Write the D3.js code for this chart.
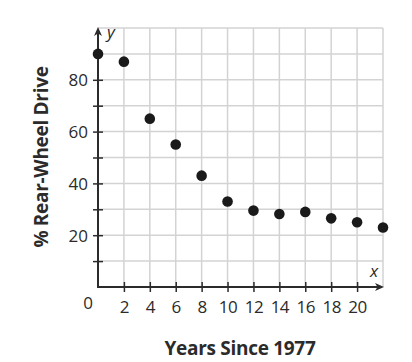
<!DOCTYPE html>
<html>
<head>
<meta charset="utf-8">
<script src="https://cdn.jsdelivr.net/npm/d3@7"></script>
<style>
  body { margin: 0; background: #fff; }
  svg { display: block; font-family: "Open Sans", "Noto Sans", sans-serif; }
</style>
</head>
<body>
<div id="chart"></div>
<script>
// data
const years = [0, 2, 4, 6, 8, 10, 12, 14, 16, 18, 20, 22];
const rearWheel = [90, 87, 65, 55, 43, 33, 29.5, 28.2, 29, 26.5, 25, 23];
const xTicks = [2, 4, 6, 8, 10, 12, 14, 16, 18, 20];
const yTicks = [10, 20, 30, 40, 50, 60, 70, 80, 90];
const yLabels = [20, 40, 60, 80];

const width = 412, height = 362;
const ink = "#2b2b2b";

const svg = d3.select("#chart").append("svg")
  .attr("width", width)
  .attr("height", height)
  .attr("viewBox", [0, 0, width, height]);

const x = d3.scaleLinear().domain([0, 22]).range([98, 383]);
const y = d3.scaleLinear().domain([0, 100]).range([287, 28]);

// grid
const grid = svg.append("g").attr("stroke", "#d3d3d3").attr("stroke-width", 1.5);
grid.selectAll("line.v")
  .data(d3.range(2, 23, 2))
  .join("line")
  .attr("x1", d => x(d)).attr("x2", d => x(d))
  .attr("y1", y(0)).attr("y2", y(100));
grid.selectAll("line.h")
  .data(d3.range(10, 101, 10))
  .join("line")
  .attr("x1", x(0)).attr("x2", x(22))
  .attr("y1", d => y(d)).attr("y2", d => y(d));

// y axis
const yAxis = svg.append("g")
  .attr("transform", `translate(${x(0)},0)`)
  .call(d3.axisLeft(y)
    .tickValues(yTicks)
    .tickSize(5)
    .tickPadding(5)
    .tickFormat(d => yLabels.includes(d) ? d : ""));
yAxis.select(".domain").remove();
yAxis.selectAll(".tick line").attr("x1", 5).attr("stroke", ink).attr("stroke-width", 1.5);
yAxis.selectAll(".tick text")
  .attr("fill", ink).attr("font-size", 17).attr("font-family", "Open Sans")
  .attr("dy", "0.36em");

// x axis
const xAxis = svg.append("g")
  .attr("transform", `translate(0,${y(0)})`)
  .call(d3.axisBottom(x).tickValues(xTicks).tickSize(5).tickPadding(9));
xAxis.select(".domain").remove();
xAxis.selectAll(".tick line").attr("y1", -5).attr("stroke", ink).attr("stroke-width", 1.5);
xAxis.selectAll(".tick text")
  .attr("fill", ink).attr("font-size", 17).attr("font-family", "Open Sans")
  .attr("letter-spacing", -0.5);

// axis lines with arrowheads
svg.append("line")
  .attr("x1", x(0)).attr("x2", x(0)).attr("y1", y(0) + 1).attr("y2", y(100) + 4)
  .attr("stroke", ink).attr("stroke-width", 2);
svg.append("line")
  .attr("x1", x(0) - 1).attr("x2", x(22) - 2).attr("y1", y(0)).attr("y2", y(0))
  .attr("stroke", ink).attr("stroke-width", 2);
svg.append("path")
  .attr("d", `M${x(0)},${y(100) - 1} l-4,9 l4,-2.5 l4,2.5 z`)
  .attr("fill", ink);
svg.append("path")
  .attr("d", `M${x(22) + 1},${y(0)} l-9,-4 l2.5,4 l-2.5,4 z`)
  .attr("fill", ink);

// origin label and axis letters
svg.append("text")
  .attr("x", x(0) - 10).attr("y", y(0) + 22)
  .attr("text-anchor", "middle")
  .attr("font-size", 17).attr("fill", ink)
  .text("0");
svg.append("text")
  .attr("x", x(0) + 9).attr("y", y(100) + 10)
  .attr("font-size", 17).attr("font-style", "italic").attr("fill", ink)
  .text("y");
svg.append("text")
  .attr("x", x(22) - 9).attr("y", y(0) - 10)
  .attr("text-anchor", "middle")
  .attr("font-size", 17).attr("font-style", "italic").attr("fill", ink)
  .text("x");

// points
svg.append("g")
  .selectAll("circle")
  .data(years.map((d, i) => [d, rearWheel[i]]))
  .join("circle")
  .attr("cx", d => x(d[0]))
  .attr("cy", d => y(d[1]))
  .attr("r", 5.3)
  .attr("fill", "#1a1a1a");

// axis titles
svg.append("text")
  .attr("x", 240).attr("y", 355)
  .attr("text-anchor", "middle")
  .attr("font-size", 19).attr("font-weight", "bold").attr("fill", ink)
  .attr("letter-spacing", -0.3)
  .text("Years Since 1977");
svg.append("text")
  .attr("transform", "translate(48,157) rotate(-90)")
  .attr("text-anchor", "middle")
  .attr("font-size", 19).attr("font-weight", "bold").attr("fill", ink)
  .attr("letter-spacing", -0.3)
  .text("% Rear-Wheel Drive");
</script>
</body>
</html>
